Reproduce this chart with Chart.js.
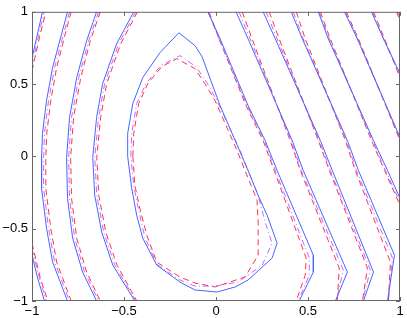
<!DOCTYPE html>
<html>
<head>
<meta charset="utf-8">
<script src="https://cdn.jsdelivr.net/npm/chart.js@4"></script>
<style>
  html, body { margin: 0; padding: 0; background: #fff; }
  canvas { display: block; }
</style>
</head>
<body>
<canvas id="plot" width="407" height="318"></canvas>
<script>
// tick values on both axes
const xTicks = [-1, -0.5, 0, 0.5, 1];
const yTicks = [-1, -0.5, 0, 0.5, 1];

// contour lines as [x, y] points
// solid blue
const solidLines = [
    [[-1, 0.68], [-0.975, 0.82], [-0.943, 1]],
    [[-1, -0.68], [-0.97, -0.84], [-0.932, -1]],
    [[-0.807, 1], [-0.839, 0.848], [-0.888, 0.614], [-0.921, 0.386], [-0.943, 0.159], [-0.948, -0.007], [-0.948, -0.221], [-0.921, -0.497], [-0.888, -0.731], [-0.807, -1]],
    [[-0.649, 1], [-0.703, 0.8], [-0.757, 0.545], [-0.796, 0.269], [-0.812, -0.007], [-0.807, -0.29], [-0.779, -0.566], [-0.725, -0.8], [-0.649, -1]],
    [[-0.447, 1], [-0.54, 0.779], [-0.616, 0.503], [-0.649, 0.269], [-0.67, -0.007], [-0.659, -0.269], [-0.621, -0.524], [-0.561, -0.752], [-0.441, -1]],
    [[-0.48, 0], [-0.48, 0.159], [-0.452, 0.366], [-0.398, 0.545], [-0.305, 0.717], [-0.202, 0.855], [-0.114, 0.766], [-0.076, 0.69], [0.022, 0.352], [0.104, 0.11], [0.174, -0.097], [0.229, -0.269], [0.278, -0.407], [0.332, -0.6], [0.305, -0.703], [0.174, -0.855], [0.104, -0.903], [0.005, -0.938], [-0.114, -0.924], [-0.196, -0.869], [-0.322, -0.752], [-0.398, -0.566], [-0.431, -0.407], [-0.458, -0.221], [-0.48, 0]],
    [[-0.044, 1], [0.022, 0.814], [0.174, 0.352], [0.267, 0.11], [0.332, -0.097], [0.529, -0.683], [0.529, -0.8], [0.452, -1]],
    [[0.109, 1], [0.174, 0.814], [0.414, 0.11], [0.474, -0.097], [0.714, -0.8], [0.649, -1]],
    [[0.256, 1], [0.322, 0.814], [0.567, 0.11], [0.632, -0.097], [0.856, -0.8], [0.801, -1]],
    [[0.409, 1], [0.469, 0.814], [0.714, 0.11], [0.774, -0.097], [0.97, -0.683], [0.932, -1]],
    [[0.556, 1], [0.61, 0.814], [0.856, 0.11], [0.932, -0.097], [1, -0.29]],
    [[0.698, 1], [0.768, 0.814], [1, 0.131]],
    [[0.845, 1], [0.91, 0.814], [1, 0.572]]
];

// dashed red
const dashedLines = [
    [[-1, 0.59], [-0.96, 0.82], [-0.925, 1]],
    [[-1, -0.6], [-0.955, -0.84], [-0.914, -1]],
    [[-0.787, 1], [-0.819, 0.848], [-0.866, 0.614], [-0.898, 0.386], [-0.92, 0.159], [-0.925, -0.007], [-0.925, -0.221], [-0.898, -0.497], [-0.866, -0.731], [-0.787, -1]],
    [[-0.629, 1], [-0.683, 0.8], [-0.735, 0.545], [-0.774, 0.269], [-0.79, -0.007], [-0.785, -0.29], [-0.757, -0.566], [-0.703, -0.8], [-0.629, -1]],
    [[-0.427, 1], [-0.518, 0.779], [-0.594, 0.503], [-0.627, 0.269], [-0.648, -0.007], [-0.637, -0.269], [-0.599, -0.524], [-0.538, -0.752], [-0.43, -1]],
    [[-0.452, 0], [-0.447, 0.159], [-0.42, 0.366], [-0.371, 0.503], [-0.294, 0.621], [-0.213, 0.676], [-0.114, 0.607], [-0.06, 0.503], [-0.005, 0.386], [0.114, 0.041], [0.223, -0.303], [0.229, -0.455], [0.229, -0.683], [0.158, -0.834], [-0.005, -0.903], [-0.114, -0.876], [-0.196, -0.834], [-0.322, -0.731], [-0.376, -0.545], [-0.414, -0.359], [-0.441, -0.2], [-0.452, 0]],
    [[-0.038, 1], [0.016, 0.814], [0.163, 0.352], [0.256, 0.11], [0.316, -0.097], [0.49, -0.703], [0.485, -0.821], [0.436, -1]],
    [[0.142, 1], [0.196, 0.814], [0.403, 0.11], [0.458, -0.097], [0.67, -0.772], [0.659, -1]],
    [[0.289, 1], [0.343, 0.814], [0.556, 0.11], [0.616, -0.097], [0.823, -0.772], [0.796, -1]],
    [[0.436, 1], [0.485, 0.814], [0.703, 0.11], [0.757, -0.097], [0.948, -0.731], [0.937, -1]],
    [[0.567, 1], [0.621, 0.814], [0.845, 0.11], [0.916, -0.097], [1, -0.338]],
    [[0.708, 1], [0.774, 0.814], [1, 0.11]],
    [[0.856, 1], [0.916, 0.814], [1, 0.545]],
    [[0.981, 1], [1, 0.938]]
];

// dash-dot magenta
const dashDotLines = [
    [[-1, 0.63], [-0.967, 0.82], [-0.934, 1]],
    [[-1, -0.64], [-0.96, -0.84], [-0.922, -1]],
    [[-0.796, 1], [-0.828, 0.848], [-0.877, 0.614], [-0.91, 0.386], [-0.932, 0.159], [-0.937, -0.007], [-0.937, -0.221], [-0.91, -0.497], [-0.877, -0.731], [-0.796, -1]],
    [[-0.638, 1], [-0.692, 0.8], [-0.746, 0.545], [-0.785, 0.269], [-0.801, -0.007], [-0.796, -0.29], [-0.768, -0.566], [-0.714, -0.8], [-0.638, -1]],
    [[-0.436, 1], [-0.529, 0.779], [-0.605, 0.503], [-0.638, 0.269], [-0.659, -0.007], [-0.648, -0.269], [-0.61, -0.524], [-0.55, -0.752], [-0.435, -1]],
    [[-0.463, 0], [-0.458, 0.159], [-0.431, 0.366], [-0.381, 0.503], [-0.3, 0.628], [-0.196, 0.697], [-0.109, 0.621], [-0.049, 0.51], [0.005, 0.386], [0.131, 0.041], [0.229, -0.269], [0.267, -0.455], [0.305, -0.6], [0.251, -0.752], [0.12, -0.869], [-0.005, -0.897], [-0.114, -0.897], [-0.196, -0.855], [-0.322, -0.745], [-0.387, -0.559], [-0.42, -0.372], [-0.447, -0.207], [-0.463, 0]],
    [[-0.044, 1], [0.016, 0.814], [0.169, 0.352], [0.262, 0.11], [0.322, -0.097], [0.507, -0.703], [0.507, -0.821], [0.447, -1]],
    [[0.125, 1], [0.185, 0.814], [0.409, 0.11], [0.463, -0.097], [0.692, -0.786], [0.654, -1]],
    [[0.272, 1], [0.332, 0.814], [0.561, 0.11], [0.621, -0.097], [0.839, -0.786], [0.796, -1]],
    [[0.42, 1], [0.474, 0.814], [0.708, 0.11], [0.763, -0.097], [0.959, -0.703], [0.937, -1]],
    [[0.561, 1], [0.616, 0.814], [0.85, 0.11], [0.921, -0.097], [1, -0.317]],
    [[0.703, 1], [0.768, 0.814], [1, 0.124]],
    [[0.85, 1], [0.91, 0.814], [1, 0.559]],
    [[0.986, 1], [1, 0.959]]
];

function toPoints(line) {
    return line.map(p => ({ x: p[0], y: p[1] }));
}

function makeSets(lines, color, dash) {
    return lines.map(line => ({
        data: toPoints(line),
        showLine: true,
        borderColor: color,
        borderWidth: 1,
        borderDash: dash,
        pointRadius: 0,
        fill: false,
        tension: 0
    }));
}

// later datasets are drawn underneath in Chart.js, so blue comes first
const datasets = [].concat(
    makeSets(solidLines, "#4666ff", []),
    makeSets(dashDotLines, "#c468ff", [6, 3, 1, 3]),
    makeSets(dashedLines, "#ff3050", [6, 4])
);

function fmt(v) {
    const s = String(Math.abs(v));
    return v < 0 ? "\u2212" + s : s;
}

// box round the axes, with small inward ticks on all four sides
const boxPlugin = {
    id: "box",
    afterDraw(chart) {
        const ctx = chart.ctx;
        const a = chart.chartArea;
        const sx = chart.scales.x;
        const sy = chart.scales.y;
        ctx.save();
        ctx.strokeStyle = "#666";
        ctx.lineWidth = 1;
        ctx.strokeRect(a.left + 0.5, a.top + 0.5, a.right - a.left - 1, a.bottom - a.top - 1);
        ctx.beginPath();
        xTicks.forEach(v => {
            const px = Math.round(sx.getPixelForValue(v)) + 0.5;
            ctx.moveTo(px, a.bottom);
            ctx.lineTo(px, a.bottom - 4);
            ctx.moveTo(px, a.top);
            ctx.lineTo(px, a.top + 4);
        });
        yTicks.forEach(v => {
            const py = Math.round(sy.getPixelForValue(v)) + 0.5;
            ctx.moveTo(a.left, py);
            ctx.lineTo(a.left + 4, py);
            ctx.moveTo(a.right, py);
            ctx.lineTo(a.right - 4, py);
        });
        ctx.stroke();
        ctx.restore();
    }
};

new Chart(document.getElementById("plot"), {
    type: "scatter",
    data: { datasets: datasets },
    options: {
        responsive: false,
        animation: false,
        events: [],
        layout: { padding: { top: 11, right: 7, left: 0, bottom: 0 } },
        plugins: { legend: { display: false }, tooltip: { enabled: false } },
        scales: {
            x: {
                type: "linear",
                min: -1,
                max: 1,
                afterBuildTicks: s => { s.ticks = xTicks.map(v => ({ value: v })); },
                afterFit: s => { s.height = 17; },
                grid: { display: false, drawTicks: false },
                border: { display: false },
                ticks: {
                    padding: 3,
                    color: "#000",
                    font: { family: "'Liberation Sans', Arial, sans-serif", size: 13 },
                    maxRotation: 0,
                    callback: v => fmt(v)
                }
            },
            y: {
                type: "linear",
                min: -1,
                max: 1,
                afterBuildTicks: s => { s.ticks = yTicks.map(v => ({ value: v })); },
                afterFit: s => { s.width = 32; },
                grid: { display: false, drawTicks: false },
                border: { display: false },
                ticks: {
                    padding: 4,
                    color: "#000",
                    font: { family: "'Liberation Sans', Arial, sans-serif", size: 13 },
                    callback: v => fmt(v)
                }
            }
        }
    },
    plugins: [boxPlugin]
});
</script>
</body>
</html>
